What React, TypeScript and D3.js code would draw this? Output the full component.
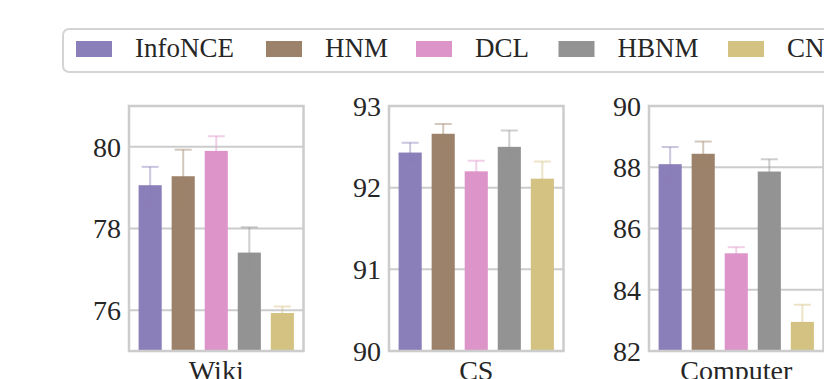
import React from 'react';
import * as d3 from 'd3';

const methods = ['InfoNCE', 'HNM', 'DCL', 'HBNM', 'CN'];
const colors = ['#8b7fb9', '#9d826b', '#dd94c9', '#939393', '#d4c283'];

const datasets = ['Wiki', 'CS', 'Computer'];
const wikiMean = [79.06, 79.28, 79.9, 77.41, 75.93];
const wikiStd = [0.45, 0.65, 0.36, 0.62, 0.16];
const csMean = [92.43, 92.66, 92.2, 92.5, 92.11];
const csStd = [0.12, 0.12, 0.13, 0.2, 0.21];
const compMean = [88.1, 88.44, 85.19, 87.86, 82.95];
const compStd = [0.56, 0.4, 0.2, 0.4, 0.56];

const wikiTicks = [76, 78, 80];
const csTicks = [90, 91, 92, 93];
const compTicks = [82, 84, 86, 88, 90];

const panels = [
  { name: datasets[0], mean: wikiMean, std: wikiStd, domain: [75, 81], ticks: wikiTicks, x0: 129 },
  { name: datasets[1], mean: csMean, std: csStd, domain: [90, 93], ticks: csTicks, x0: 389 },
  { name: datasets[2], mean: compMean, std: compStd, domain: [82, 90], ticks: compTicks, x0: 649 },
];

const W = 824;
const H = 379;
const panelW = 174.5;
const top = 106;
const bottom = 351;
const font = '"Liberation Serif", "Times New Roman", serif';
const textColor = '#262626';
const gridColor = '#cccccc';

const Panel = ({ p }) => {
  const x = d3.scaleBand().domain(methods).range([p.x0, p.x0 + panelW]).paddingInner(0.3).paddingOuter(0.29);
  const y = d3.scaleLinear().domain(p.domain).range([bottom, top]);
  const cap = 8.5;
  return (
    <g>
      {p.ticks.map(t => (
        <g key={t}>
          <line x1={p.x0} x2={p.x0 + panelW} y1={y(t)} y2={y(t)} stroke={gridColor} strokeWidth={2} />
          <text x={p.x0 - 8} y={y(t)} dy="0.35em" textAnchor="end" fontFamily={font} fontSize={28} fill={textColor}>
            {t}
          </text>
        </g>
      ))}
      {methods.map((m, i) => {
        const cx = x(m) + x.bandwidth() / 2;
        const hi = y(p.mean[i] + p.std[i]);
        const lo = y(p.mean[i] - p.std[i]);
        return (
          <g key={m}>
            <rect x={x(m)} y={y(p.mean[i])} width={x.bandwidth()} height={bottom - y(p.mean[i])} fill={colors[i]} />
            <g stroke={colors[i]} strokeOpacity={0.45} strokeWidth={2}>
              <line x1={cx} x2={cx} y1={hi} y2={lo} />
              <line x1={cx - cap} x2={cx + cap} y1={hi} y2={hi} />
              <line x1={cx - cap} x2={cx + cap} y1={lo} y2={lo} />
            </g>
          </g>
        );
      })}
      <rect x={p.x0} y={top} width={panelW} height={bottom - top} fill="none" stroke={gridColor} strokeWidth={2.5} />
      <text x={p.x0 + panelW / 2} y={380} textAnchor="middle" fontFamily={font} fontSize={28} fill={textColor}>
        {p.name}
      </text>
    </g>
  );
};

const legendX = [76, 266, 416, 558.5, 728];

export default function App() {
  return (
    <svg width={W} height={H} style={{ position: 'absolute', left: 0, top: 0, background: '#fff' }}>
      <rect x={63} y={29} width={800} height={43} rx={6} fill="#fff" stroke="#d4d4d4" strokeWidth={2} />
      {methods.map((m, i) => (
        <g key={m}>
          <rect x={legendX[i]} y={41} width={36} height={16} fill={colors[i]} />
          <text x={legendX[i] + 59} y={57} fontFamily={font} fontSize={27} fill={textColor}>
            {m}
          </text>
        </g>
      ))}
      {panels.map(p => (
        <Panel key={p.name} p={p} />
      ))}
    </svg>
  );
}
